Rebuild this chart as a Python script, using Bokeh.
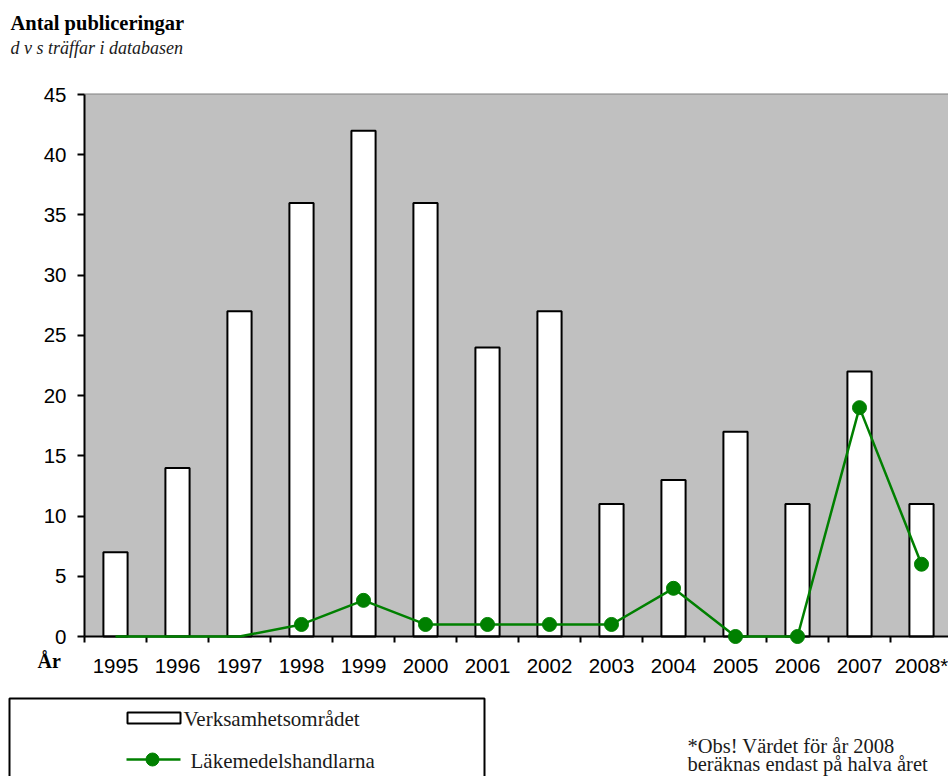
from bokeh.plotting import figure
from bokeh.models import Range1d, FixedTicker, Label, BoxAnnotation
from bokeh.layouts import column
from bokeh.embed import file_html
from bokeh.resources import INLINE
from bokeh.core.properties import value

# ---------------- data ----------------
years = ["1995", "1996", "1997", "1998", "1999", "2000", "2001",
         "2002", "2003", "2004", "2005", "2006", "2007", "2008*"]
verksamhet = [7, 14, 27, 36, 42, 36, 24, 27, 11, 13, 17, 11, 22, 11]
lakemedel = [0, 0, 0, 1, 3, 1, 1, 1, 1, 4, 0, 0, 19, 6]
marker_start = 3  # markers shown from 1998 on
y_ticks = [0, 5, 10, 15, 20, 25, 30, 35, 40, 45]

title_text = "Antal publiceringar"
subtitle_text = "d v s träffar i databasen"
legend_bar = "Verksamhetsområdet"
legend_line = "Läkemedelshandlarna"
note_lines = ["*Obs! Värdet för år 2008", "beräknas endast på halva året"]
x_title = "År"

# ---------------- style / layout (pixels) ----------------
W = 948
HEAD_H = 72
MAIN_H = 618
FOOT_H = 86
SERIF = "Liberation Serif"
SANS = "Liberation Sans"
GREEN = "#008000"
GRAY = "#c0c0c0"
TXT = "#1a1a1a"

# pixel geometry of the chart area (page coordinates)
X0_CENTER = 115.0   # centre of first category
CAT_W = 62.0        # width of one category
Y_ZERO = 636.0      # pixel of value 0
Y_TOP = 94.0        # pixel of value 45
PPU = (Y_ZERO - Y_TOP) / 45.0

def fig(h, xr, yr):
    f = figure(width=W, height=h, x_range=xr, y_range=yr,
               x_axis_type=None, y_axis_type=None, output_backend="svg",
               toolbar_location=None, min_border=0, outline_line_color=None,
               background_fill_color="white", border_fill_color="white")
    f.grid.visible = False
    return f

# ---------------- header ----------------
head = fig(HEAD_H, Range1d(0, W), Range1d(HEAD_H, 0))
head.text(x=[10], y=[22], text=[title_text], text_font=value(SERIF), text_font_style="bold",
          text_font_size="20.5px", text_baseline="alphabetic", text_color="black")
head.text(x=[10], y=[47], text=[subtitle_text], text_font=value(SERIF), text_font_style="italic",
          text_font_size="18px", text_baseline="alphabetic", text_color=TXT)

# ---------------- main chart ----------------
x_start = (0 - X0_CENTER) / CAT_W
xr = Range1d(x_start, (W - X0_CENTER) / CAT_W)
y_start = (Y_ZERO - (HEAD_H + MAIN_H)) / PPU
y_end = (Y_ZERO - HEAD_H) / PPU
yr = Range1d(y_start, y_end)
p = figure(width=W, height=MAIN_H, x_range=xr, y_range=yr,
           output_backend="svg", toolbar_location=None, min_border=0,
           outline_line_color=None, background_fill_color="white",
           border_fill_color="white")
p.grid.visible = False

xs = list(range(len(years)))
x_left = -0.5
x_right = len(years) + 1

# gray plotting area
p.add_layout(BoxAnnotation(left=x_left, right=x_right, bottom=0, top=45,
                           fill_color=GRAY, fill_alpha=1, line_color=None, level="underlay"))

# horizontal grid lines (only inside the plotting area)
grid_vals = y_ticks[1:-1]
p.segment(x0=[x_left] * len(grid_vals), x1=[x_right] * len(grid_vals),
          y0=grid_vals, y1=grid_vals, line_color="black", line_width=2, level="underlay")
p.segment(x0=[x_left], x1=[x_right], y0=[y_ticks[-1]], y1=[y_ticks[-1]],
          line_color="#808080", line_width=2, level="underlay")

# x axis
p.xaxis.fixed_location = 0
p.xaxis.bounds = (x_left, x_right)
p.xaxis.ticker = FixedTicker(ticks=xs, minor_ticks=[i - 0.5 for i in range(len(years) + 1)])
p.xaxis.major_label_overrides = {i: y for i, y in enumerate(years)}
p.xaxis.major_tick_out = 0
p.xaxis.major_tick_in = 0
p.xaxis.minor_tick_out = 6
p.xaxis.minor_tick_in = 0
p.xaxis.minor_tick_line_color = "black"
p.xaxis.minor_tick_line_width = 2
p.xaxis.axis_line_color = "black"
p.xaxis.axis_line_width = 2
p.xaxis.major_label_standoff = 11
p.xaxis.major_label_text_font = SANS
p.xaxis.major_label_text_font_size = "20.5px"
p.xaxis.major_label_text_color = "black"

# y axis
p.yaxis.fixed_location = x_left
p.yaxis.ticker = FixedTicker(ticks=y_ticks)
p.yaxis.bounds = (0, 45)
p.yaxis.major_tick_out = 7
p.yaxis.major_tick_in = 0
p.yaxis.minor_tick_out = 0
p.yaxis.minor_tick_in = 0
p.yaxis.major_tick_line_color = "black"
p.yaxis.major_tick_line_width = 2
p.yaxis.axis_line_color = "black"
p.yaxis.axis_line_width = 2
p.yaxis.major_label_standoff = 11
p.yaxis.major_label_text_font = SANS
p.yaxis.major_label_text_font_size = "20.5px"
p.yaxis.major_label_text_color = "black"

# bars
p.vbar(x=xs, top=verksamhet, bottom=0, width=0.39, fill_color="white",
       line_color="black", line_width=2)

# line + markers
p.line(xs, lakemedel, line_color=GREEN, line_width=2.5, level="overlay")
p.scatter(xs[marker_start:], lakemedel[marker_start:], size=14, fill_color=GREEN,
          line_color=GREEN, level="overlay")

# "År"
p.add_layout(Label(x=(37 - X0_CENTER) / CAT_W, y=(Y_ZERO - 660) / PPU, text=x_title,
                   text_font=SERIF, text_font_style="bold", text_font_size="20px",
                   text_baseline="alphabetic", text_color="black"))

# ---------------- legend / note ----------------
foot = fig(FOOT_H, Range1d(0, W), Range1d(FOOT_H, 0))
foot.quad(left=[9], right=[484], top=[8], bottom=[400], fill_color=None,
          line_color="black", line_width=2)
foot.quad(left=[127], right=[180], top=[22], bottom=[33], fill_color="white",
          line_color="black", line_width=2)
foot.text(x=[183], y=[28], text=[legend_bar], text_font=value(SERIF), text_font_size="21px",
          text_baseline="alphabetic", text_color=TXT)
foot.line(x=[126, 180], y=[69, 69], line_color=GREEN, line_width=2.5)
foot.scatter(x=[152], y=[69], size=13, fill_color=GREEN, line_color=GREEN)
foot.text(x=[190], y=[70], text=[legend_line], text_font=value(SERIF), text_font_size="21px",
          text_baseline="alphabetic", text_color=TXT)
foot.text(x=[687, 687], y=[55, 73], text=note_lines, text_font=value(SERIF),
          text_font_size="20.5px", text_baseline="alphabetic", text_color=TXT)

layout = column(head, p, foot, spacing=0)
open("out.html", "w").write(file_html(layout, INLINE))
